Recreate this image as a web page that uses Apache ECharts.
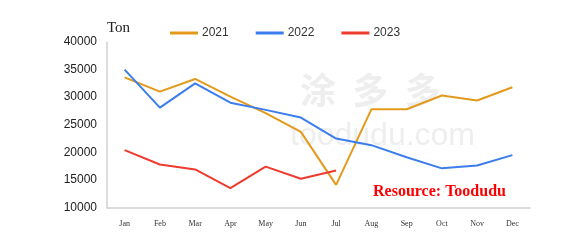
<!DOCTYPE html>
<html>
<head>
<meta charset="utf-8">
<script src="https://cdn.jsdelivr.net/npm/echarts@6/dist/echarts.min.js"></script>
<style>html,body{margin:0;padding:0;background:#fff;}#c{width:585px;height:249px;}</style>
</head>
<body>
<div id="c"></div>
<script>
const categories = ['Jan','Feb','Mar','Apr','May','Jun','Jul','Aug','Sep','Oct','Nov','Dec'];
const s2021 = [33600, 31000, 33300, 30100, 27100, 23700, 14100, 27800, 27800, 30300, 29400, 31800];
const s2022 = [35000, 28100, 32500, 29000, 27700, 26300, 22500, 21300, 19100, 17100, 17600, 19500];
const s2023 = [20400, 17800, 16900, 13500, 17400, 15200, 16700];
const yTicks = {min: 10000, max: 40000, interval: 5000};

const chart = echarts.init(document.getElementById('c'));
const colors = ['#E39A1C', '#3B7DED', '#EE3B2E'];
chart.setOption({
  animation: false,
  color: colors,
  grid: {left: 107, right: 55, top: 42, bottom: 41.5},
  graphic: [
    {type: 'text', left: 107, top: 21, style: {text: 'Ton', font: '15px "Liberation Serif"', fill: '#222'}},
    {type: 'text', left: 300, top: 72, style: {text: '涂  多  多', font: 'bold 36px "Noto Sans CJK SC"', fill: 'rgba(205,205,205,0.35)'}},
    {type: 'text', left: 290, top: 120, style: {text: 'toodudu.com', font: '32px "Liberation Sans"', fill: 'rgba(205,205,205,0.35)'}},
    {type: 'text', left: 373, top: 184, style: {text: 'Resource: Toodudu', font: 'bold 16px "Liberation Serif"', fill: '#FF0000'}}
  ],
  legend: {
    left: 165, top: 22,
    itemWidth: 28, itemHeight: 3, itemGap: 27,
    icon: 'rect',
    textStyle: {fontFamily: 'Liberation Sans', fontSize: 12, color: '#333', padding: [0,0,0,-1]},
    data: ['2021', '2022', '2023']
  },
  xAxis: {
    type: 'category',
    data: categories,
    boundaryGap: true,
    axisLine: {lineStyle: {color: '#d0d0d0', width: 1.5}},
    axisTick: {inside: true, length: 4, lineStyle: {color: '#d0d0d0'}},
    axisLabel: {fontFamily: 'Liberation Serif', fontSize: 8, color: '#333', margin: 12}
  },
  yAxis: {
    type: 'value',
    min: yTicks.min, max: yTicks.max, interval: yTicks.interval,
    splitLine: {show: false},
    axisLine: {show: true, lineStyle: {color: '#d0d0d0', width: 1.5}},
    axisTick: {show: false},
    axisLabel: {fontFamily: 'Liberation Sans', fontSize: 12, color: '#222', margin: 10, formatter: v => String(v)}
  },
  series: [
    {name: '2021', type: 'line', data: s2021, symbol: 'none', lineStyle: {width: 2}},
    {name: '2022', type: 'line', data: s2022, symbol: 'none', lineStyle: {width: 2}},
    {name: '2023', type: 'line', data: s2023, symbol: 'none', lineStyle: {width: 2}}
  ]
});
</script>
</body>
</html>
